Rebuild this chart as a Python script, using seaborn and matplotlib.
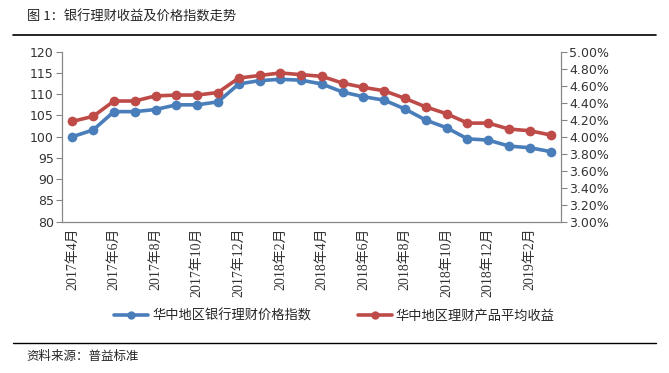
import numpy as np
import pandas as pd
import matplotlib
matplotlib.use('Agg')
import matplotlib.pyplot as plt
import seaborn as sns
from matplotlib.ticker import FuncFormatter, FixedLocator
from matplotlib.lines import Line2D

# dados
meses = ['2017年4月', '2017年5月', '2017年6月', '2017年7月', '2017年8月', '2017年9月',
         '2017年10月', '2017年11月', '2017年12月', '2018年1月', '2018年2月', '2018年3月',
         '2018年4月', '2018年5月', '2018年6月', '2018年7月', '2018年8月', '2018年9月',
         '2018年10月', '2018年11月', '2018年12月', '2019年1月', '2019年2月', '2019年3月']
indice_preco = [100.0, 101.6, 105.9, 105.9, 106.4, 107.5, 107.5, 108.2, 112.4, 113.2, 113.5, 113.3,
                112.4, 110.5, 109.4, 108.6, 106.5, 103.9, 102.1, 99.5, 99.2, 97.8, 97.4, 96.5]
rendimento = [4.18, 4.24, 4.42, 4.42, 4.48, 4.49, 4.49, 4.52, 4.69, 4.72, 4.75, 4.73,
              4.71, 4.63, 4.58, 4.54, 4.45, 4.35, 4.27, 4.16, 4.16, 4.09, 4.07, 4.02]
nome_azul = '华中地区银行理财价格指数'
nome_vermelho = '华中地区理财产品平均收益'

sns.set_style('white')
plt.rcParams['font.family'] = ['Noto Sans CJK SC', 'DejaVu Sans']

azul = '#4A7EBB'
vermelho = '#BE4B48'
cinza = '#868686'

df = pd.DataFrame({'x': np.arange(len(meses)), 'idx': indice_preco, 'rend': rendimento})

fig = plt.figure(figsize=(6.69, 3.73), dpi=100)
ax = fig.add_axes([0.0927, 0.4056, 0.7459, 0.4558])
ax2 = ax.twinx()

sns.lineplot(data=df, x='x', y='idx', ax=ax, color=azul, lw=2.6, marker='o',
             markersize=7, markeredgewidth=0)
sns.lineplot(data=df, x='x', y='rend', ax=ax2, color=vermelho, lw=2.6, marker='o',
             markersize=7, markeredgewidth=0)

ax.set_xlim(-0.5, len(meses) - 0.5)
ax.set_ylim(80, 120)
ax.set_yticks(np.arange(80, 121, 5))
ax2.set_ylim(3.0, 5.0)
ax2.set_yticks(np.arange(3.0, 5.01, 0.2))
ax2.yaxis.set_major_formatter(FuncFormatter(lambda v, p: f'{v:.2f}%'))

# marcas entre categorias, rótulos a cada 2 meses
ax.xaxis.set_major_locator(FixedLocator(np.arange(-0.5, len(meses), 2)))
ax.xaxis.set_minor_locator(FixedLocator(np.arange(0, len(meses), 2)))
ax.set_xticklabels([])
ax.set_xticklabels([meses[i] for i in range(0, len(meses), 2)], minor=True,
                   rotation=90, fontsize=10, color='#333333')
for t in ax.get_xticklabels(minor=True):
    t.set_family(['Liberation Serif', 'Noto Sans CJK SC'])
ax.tick_params(axis='x', which='major', length=4, width=0.8, color=cinza, direction='out')
ax.tick_params(axis='x', which='minor', length=0, pad=4)
ax.tick_params(axis='y', length=4, width=0.8, color=cinza, labelsize=9, labelcolor='#333333', pad=2)
ax2.tick_params(axis='y', length=4, width=0.8, color=cinza, labelsize=9, labelcolor='#333333', pad=2)
for t in ax.get_yticklabels() + ax2.get_yticklabels():
    t.set_family('DejaVu Sans')

ax.set_xlabel('')
ax.set_ylabel('')
ax2.set_ylabel('')
for a in (ax, ax2):
    a.spines['top'].set_visible(False)
    for s in ('left', 'right', 'bottom'):
        a.spines[s].set_color(cinza)
        a.spines[s].set_linewidth(0.8)
ax.grid(False)
ax2.grid(False)

handles = [Line2D([], [], color=azul, lw=2.6, marker='o', markersize=6, markeredgewidth=0),
           Line2D([], [], color=vermelho, lw=2.6, marker='o', markersize=6, markeredgewidth=0)]
fig.legend(handles, [nome_azul, nome_vermelho], loc='center', bbox_to_anchor=(0.5, 0.153),
           ncol=2, frameon=False, fontsize=9.5, handlelength=2.6, columnspacing=3.5,
           handletextpad=0.3)

fig.text(0.04, 0.955, '图 1：银行理财收益及价格指数走势', fontsize=9.5, va='center', ha='left')
fig.add_artist(Line2D([0.02, 0.98], [0.906, 0.906], color='black', lw=1.2))
fig.add_artist(Line2D([0.02, 0.98], [0.08, 0.08], color='black', lw=1.0))
fig.text(0.04, 0.043, '资料来源：普益标准', fontsize=9, va='center', ha='left')

fig.savefig('out.png', dpi=100)
